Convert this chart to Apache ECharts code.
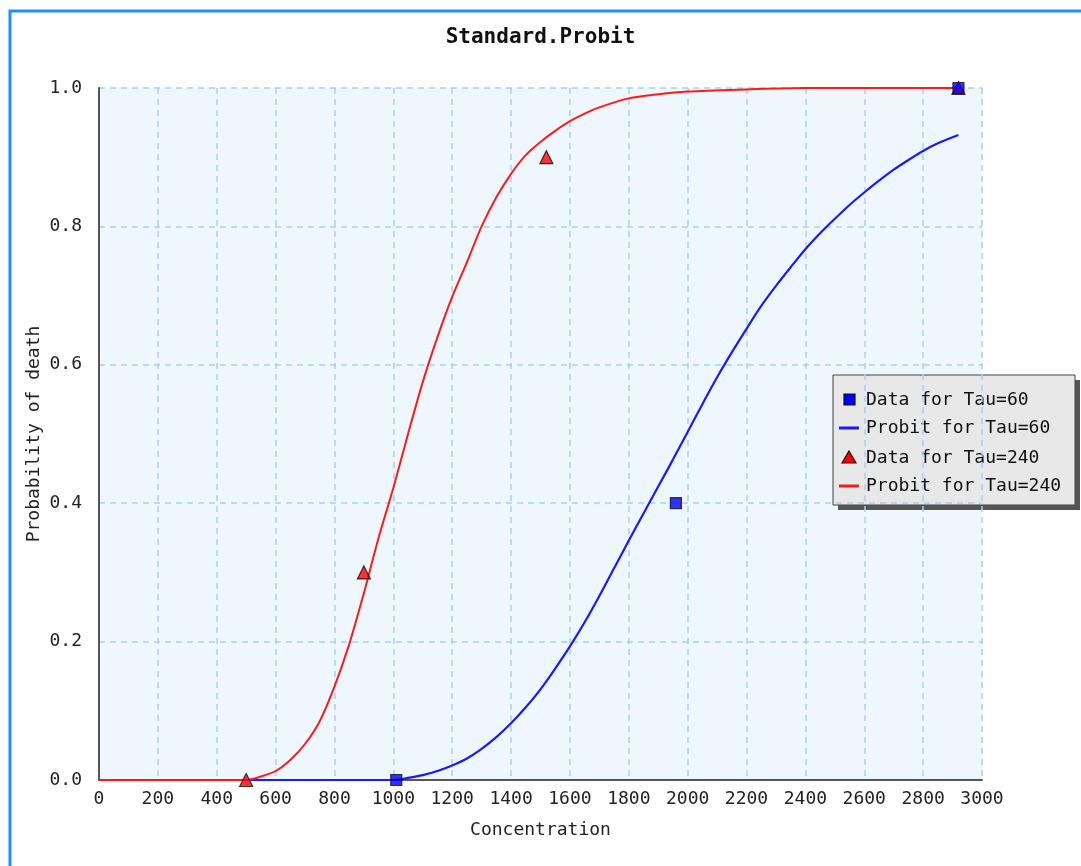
<!DOCTYPE html>
<html>
<head>
<meta charset="utf-8">
<title>Standard.Probit</title>
<script src="https://cdn.jsdelivr.net/npm/echarts@6/dist/echarts.min.js"></script>
<style>
  html, body { margin: 0; padding: 0; background: #ffffff; }
  #chart { width: 1081px; height: 866px; }
</style>
</head>
<body>
<div id="chart"></div>
<script>
// Observed mortality fractions [concentration, probability]
var dataTau60 = [[1010, 0], [1960, 0.4], [2920, 1.0]];
var dataTau240 = [[500, 0], [900, 0.3], [1520, 0.9], [2920, 1.0]];

// Fitted probit curves [concentration, probability]
var probitTau60 = [
  [0, 0], [1000, 0], [1050, 0.003], [1100, 0.007], [1150, 0.013], [1200, 0.021],
  [1250, 0.031], [1300, 0.045], [1350, 0.062], [1400, 0.082], [1450, 0.105],
  [1500, 0.131], [1550, 0.161], [1600, 0.193], [1650, 0.228], [1700, 0.266],
  [1750, 0.306], [1800, 0.346], [1850, 0.385], [1900, 0.424], [1950, 0.463],
  [2000, 0.503], [2050, 0.543], [2100, 0.582], [2150, 0.618], [2200, 0.652],
  [2250, 0.685], [2300, 0.714], [2350, 0.741], [2400, 0.767], [2450, 0.79],
  [2500, 0.811], [2550, 0.831], [2600, 0.849], [2650, 0.866], [2700, 0.882],
  [2750, 0.896], [2800, 0.909], [2850, 0.92], [2920, 0.932]
];
var probitTau240 = [
  [0, 0], [500, 0], [550, 0.005], [600, 0.013], [650, 0.029], [700, 0.052],
  [750, 0.085], [800, 0.135], [850, 0.196], [900, 0.27], [950, 0.35],
  [1000, 0.422], [1050, 0.5], [1100, 0.575], [1150, 0.64], [1200, 0.698],
  [1250, 0.748], [1300, 0.8], [1350, 0.842], [1400, 0.876], [1450, 0.903],
  [1500, 0.922], [1550, 0.938], [1600, 0.952], [1650, 0.963], [1700, 0.972],
  [1800, 0.985], [1900, 0.991], [2000, 0.995], [2200, 0.998], [2400, 1.0],
  [2920, 1.0]
];

var seriesNames = ['Data for Tau=60', 'Probit for Tau=60', 'Data for Tau=240', 'Probit for Tau=240'];
var titleText = 'Standard.Probit';
var xAxisTitle = 'Concentration';
var yAxisTitle = 'Probability of death';

var FONT = '"DejaVu Sans Mono", "Liberation Mono", monospace';
var BLUE = '#1a1aff';
var RED = '#ff1a1a';

// Boxed key with a drop shadow, placed inside the plot on the right
function buildKey(x, y) {
  var w = 242, h = 130, rowY = [25, 53, 83, 111];
  var kids = [
    { type: 'rect', shape: { x: 5, y: 5, width: w, height: h }, style: { fill: '#555555' } },
    { type: 'rect', shape: { x: 0, y: 0, width: w, height: h }, style: { fill: '#e8e8e8', stroke: '#444', lineWidth: 1 } },
    { type: 'rect', shape: { x: 11, y: rowY[0] - 6, width: 11, height: 11 }, style: { fill: '#0000ff', stroke: '#111', lineWidth: 1.2 } },
    { type: 'line', shape: { x1: 6, y1: rowY[1], x2: 26, y2: rowY[1] }, style: { stroke: BLUE, lineWidth: 3 } },
    { type: 'polygon', shape: { points: [[16, rowY[2] - 7], [23, rowY[2] + 5], [9, rowY[2] + 5]] }, style: { fill: '#ff0000', stroke: '#111', lineWidth: 1.2 } },
    { type: 'line', shape: { x1: 6, y1: rowY[3], x2: 26, y2: rowY[3] }, style: { stroke: RED, lineWidth: 3 } }
  ];
  for (var i = 0; i < seriesNames.length; i++) {
    kids.push({
      type: 'text', x: 33, y: rowY[i],
      style: { text: seriesNames[i], font: '18px ' + FONT, fill: '#111', verticalAlign: 'middle', textAlign: 'left' }
    });
  }
  return { type: 'group', x: x, y: y, z: 50, silent: true, children: kids };
}

var chart = echarts.init(document.getElementById('chart'), null, { renderer: 'canvas' });

chart.setOption({
  backgroundColor: '#ffffff',
  animation: false,
  title: {
    text: titleText,
    left: 'center',
    top: 22,
    textStyle: { fontFamily: FONT, fontSize: 21, fontWeight: 'bold', color: '#111' }
  },
  graphic: [
    {
      type: 'rect',
      shape: { x: 10, y: 11, width: 1200, height: 1000 },
      style: { fill: null, stroke: '#1e90ff', lineWidth: 3 },
      silent: true,
      z: 100
    },
    buildKey(833, 375)
  ],
  grid: {
    left: 99, right: 99, top: 88, bottom: 86,
    show: true, backgroundColor: '#eef6fe', borderWidth: 0
  },
  xAxis: {
    type: 'value',
    min: 0, max: 3000, interval: 200,
    name: xAxisTitle,
    nameLocation: 'middle',
    nameGap: 41,
    nameMoveOverlap: false,
    nameTextStyle: { fontFamily: FONT, fontSize: 18, color: '#222' },
    axisLine: { show: true, onZero: false, lineStyle: { color: '#555', width: 2 } },
    axisTick: { show: false },
    axisLabel: {
      fontFamily: FONT, fontSize: 18, color: '#222', margin: 10,
      formatter: function (v) { return String(v); }
    },
    splitLine: { show: true, lineStyle: { color: '#a6cff8', width: 1.5, type: [6, 5] } }
  },
  yAxis: {
    type: 'value',
    min: 0, max: 1, interval: 0.2,
    name: yAxisTitle,
    nameLocation: 'middle',
    nameGap: 56,
    nameMoveOverlap: false,
    nameTextStyle: { fontFamily: FONT, fontSize: 18, color: '#222' },
    axisLine: { show: true, onZero: false, lineStyle: { color: '#555', width: 2 } },
    axisTick: { show: false },
    axisLabel: {
      fontFamily: FONT, fontSize: 18, color: '#222', margin: 17,
      formatter: function (v) { return v.toFixed(1); }
    },
    splitLine: { show: true, lineStyle: { color: '#a6cff8', width: 1.5, type: [6, 5] } }
  },
  series: [
    {
      name: seriesNames[0],
      type: 'scatter',
      data: dataTau60,
      symbol: 'rect',
      symbolSize: 11,
      itemStyle: { color: '#0000ff', borderColor: '#111', borderWidth: 1.2 },
      z: 5
    },
    {
      name: seriesNames[1],
      type: 'line',
      data: probitTau60,
      showSymbol: false,
      symbol: 'none',
      smooth: 0.3,
      lineStyle: { color: BLUE, width: 2.2 },
      itemStyle: { color: BLUE },
      z: 2
    },
    {
      name: seriesNames[2],
      type: 'scatter',
      data: dataTau240,
      symbol: 'triangle',
      symbolSize: 13,
      itemStyle: { color: '#ff0000', borderColor: '#111', borderWidth: 1.2 },
      z: 4
    },
    {
      name: seriesNames[3],
      type: 'line',
      data: probitTau240,
      showSymbol: false,
      symbol: 'none',
      smooth: 0.3,
      lineStyle: { color: RED, width: 2 },
      itemStyle: { color: RED },
      z: 3
    }
  ]
});
</script>
</body>
</html>
